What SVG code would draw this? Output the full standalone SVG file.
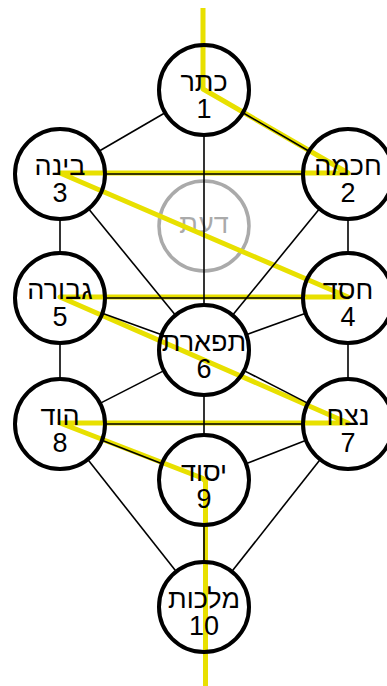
<svg xmlns="http://www.w3.org/2000/svg" width="387" height="686" viewBox="0 0 387 686">
<style>
.node{fill:none;stroke:#000;stroke-width:4}
.daat{fill:none;stroke:#aaa;stroke-width:3.5}
.edge{stroke:#000;stroke-width:1.6;fill:none}
.flash{fill:none;stroke:#e8e000;stroke-width:5;stroke-linejoin:round}
text{font-family:"Liberation Sans",Arial,sans-serif;font-size:27px;text-anchor:middle;fill:#000}
.gt{fill:#aaa}
</style>
<rect width="387" height="686" fill="#fff"/>
<g id="daat">
<circle class="daat" cx="204" cy="226" r="45"/>
<text class="gt" x="204" y="233">דעת</text>
</g>
<path id="lightning" class="flash" d="M203 8 L203 89 L348 173 L60 173 L348 297 L60 297 L348 423 L60 423 L202 478 L205.5 481 L205.5 686"/>
<g id="connectors" class="edge">
<line x1="242.9" y1="112.7" x2="309.1" y2="151.3"/>
<line x1="165.1" y1="112.7" x2="98.9" y2="151.3"/>
<line x1="204" y1="135" x2="204" y2="305"/>
<line x1="303" y1="174" x2="105" y2="174"/>
<line x1="348" y1="219" x2="348" y2="253"/>
<line x1="319.5" y1="208.8" x2="232.5" y2="315.2"/>
<line x1="60" y1="219" x2="60" y2="253"/>
<line x1="88.5" y1="208.8" x2="175.5" y2="315.2"/>
<line x1="303" y1="298" x2="105" y2="298"/>
<line x1="305.7" y1="313.3" x2="246.3" y2="334.7"/>
<line x1="348" y1="343" x2="348" y2="379"/>
<line x1="102.3" y1="313.3" x2="161.7" y2="334.7"/>
<line x1="60" y1="343" x2="60" y2="379"/>
<line x1="244" y1="370.6" x2="308" y2="403.4"/>
<line x1="164" y1="370.6" x2="100" y2="403.4"/>
<line x1="204" y1="395" x2="204" y2="435"/>
<line x1="303" y1="424" x2="105" y2="424"/>
<line x1="306.1" y1="440.3" x2="245.9" y2="463.7"/>
<line x1="320.2" y1="459.4" x2="231.8" y2="571.6"/>
<line x1="101.9" y1="440.3" x2="162.1" y2="463.7"/>
<line x1="87.8" y1="459.4" x2="176.2" y2="571.6"/>
<line x1="204" y1="525" x2="204" y2="562"/>
</g>
<g id="keter"><circle class="node" cx="204" cy="90" r="45"/><text x="204" y="91">כתר</text><text x="204" y="118">1</text></g>
<g id="chokhmah"><circle class="node" cx="348" cy="174" r="45"/><text x="348" y="175">חכמה</text><text x="348" y="202">2</text></g>
<g id="binah"><circle class="node" cx="60" cy="174" r="45"/><text x="60" y="175">בינה</text><text x="60" y="202">3</text></g>
<g id="chesed"><circle class="node" cx="348" cy="298" r="45"/><text x="348" y="299">חסד</text><text x="348" y="326">4</text></g>
<g id="gevurah"><circle class="node" cx="60" cy="298" r="45"/><text x="60" y="299">גבורה</text><text x="60" y="326">5</text></g>
<g id="tiferet"><circle class="node" cx="204" cy="350" r="45"/><text x="204" y="351">תפארת</text><text x="204" y="378">6</text></g>
<g id="netzach"><circle class="node" cx="348" cy="424" r="45"/><text x="348" y="425">נצח</text><text x="348" y="452">7</text></g>
<g id="hod"><circle class="node" cx="60" cy="424" r="45"/><text x="60" y="425">הוד</text><text x="60" y="452">8</text></g>
<g id="yesod"><circle class="node" cx="204" cy="480" r="45"/><text x="204" y="481">יסוד</text><text x="204" y="508">9</text></g>
<g id="malkhut"><circle class="node" cx="204" cy="607" r="45"/><text x="204" y="608">מלכות</text><text x="204" y="635">10</text></g>
</svg>
